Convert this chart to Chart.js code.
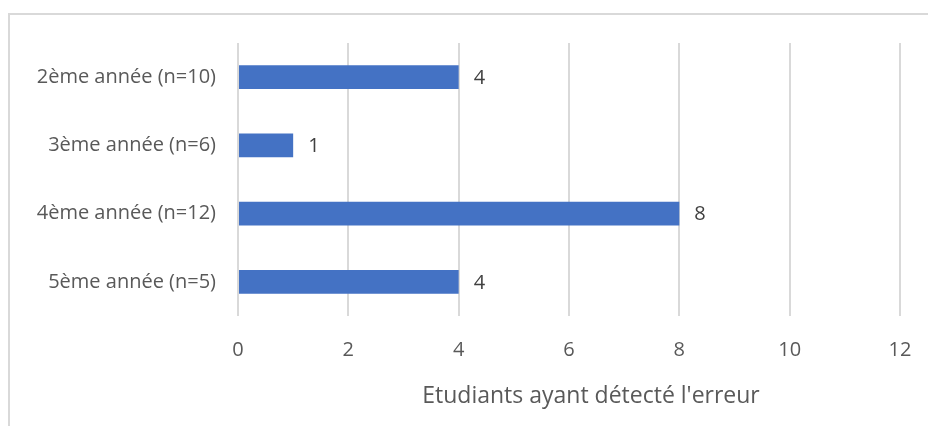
<!DOCTYPE html>
<html>
<head>
<meta charset="utf-8">
<script src="https://cdn.jsdelivr.net/npm/chart.js@4"></script>
<style>
  html, body { margin: 0; padding: 0; background: #fff; }
  #wrap { position: relative; width: 928px; height: 426px; overflow: hidden; }
  #frame { position: absolute; left: 8px; top: 13px; width: 940px; height: 440px;
           border-left: 2px solid #d9d9d9; border-top: 2px solid #d9d9d9; }
  canvas { position: absolute; left: 0; top: 0; }
</style>
</head>
<body>
<div id="wrap">
  <div id="frame"></div>
  <canvas id="myChart" width="928" height="426"></canvas>
</div>
<script>
const categories = ["2ème année (n=10)", "3ème année (n=6)", "4ème année (n=12)", "5ème année (n=5)"];
const detected = [4, 1, 8, 4];
const axisTitle = "Etudiants ayant détecté l'erreur";
const fontFamily = "'Open Sans', 'Liberation Sans', sans-serif";

// values next to the bars + axis title
const labelPlugin = {
  id: "barLabels",
  afterDatasetsDraw(chart) {
    const ctx = chart.ctx;
    const meta = chart.getDatasetMeta(0);
    ctx.save();
    ctx.font = "20px " + fontFamily;
    ctx.fillStyle = "#404040";
    ctx.textAlign = "left";
    ctx.textBaseline = "middle";
    meta.data.forEach((bar, i) => {
      ctx.fillText(detected[i], bar.x + 15, bar.y + 1);
    });
    ctx.fillStyle = "#595959";
    ctx.font = "23px " + fontFamily;
    ctx.textAlign = "center";
    ctx.fillText(axisTitle, 591, 396);
    ctx.restore();
  }
};

const ctx = document.getElementById("myChart").getContext("2d");
const myChart = new Chart(ctx, {
  type: "bar",
  data: {
    labels: categories,
    datasets: [{
      data: detected,
      backgroundColor: "#4472c4",
      barPercentage: 0.7,
      categoryPercentage: 0.5
    }]
  },
  options: {
    indexAxis: "y",
    responsive: false,
    animation: false,
    layout: { padding: { left: 0, top: 43, right: 28, bottom: 0 } },
    plugins: { legend: { display: false }, tooltip: { enabled: false } },
    scales: {
      x: {
        min: 0, max: 12,
        ticks: { stepSize: 2, color: "#595959", font: { size: 20, family: fontFamily }, padding: 22 },
        grid: { color: "#d9d9d9", lineWidth: 2, drawTicks: false },
        border: { display: false },
        afterFit(scale) { scale.height = 110; scale.paddingLeft = 0; scale.paddingRight = 0; }
      },
      y: {
        ticks: { color: "#595959", font: { size: 20, family: fontFamily }, padding: 22 },
        grid: { display: false, drawTicks: false },
        border: { display: false },
        afterFit(scale) { scale.width = 238; }
      }
    }
  },
  plugins: [labelPlugin]
});
</script>
</body>
</html>
